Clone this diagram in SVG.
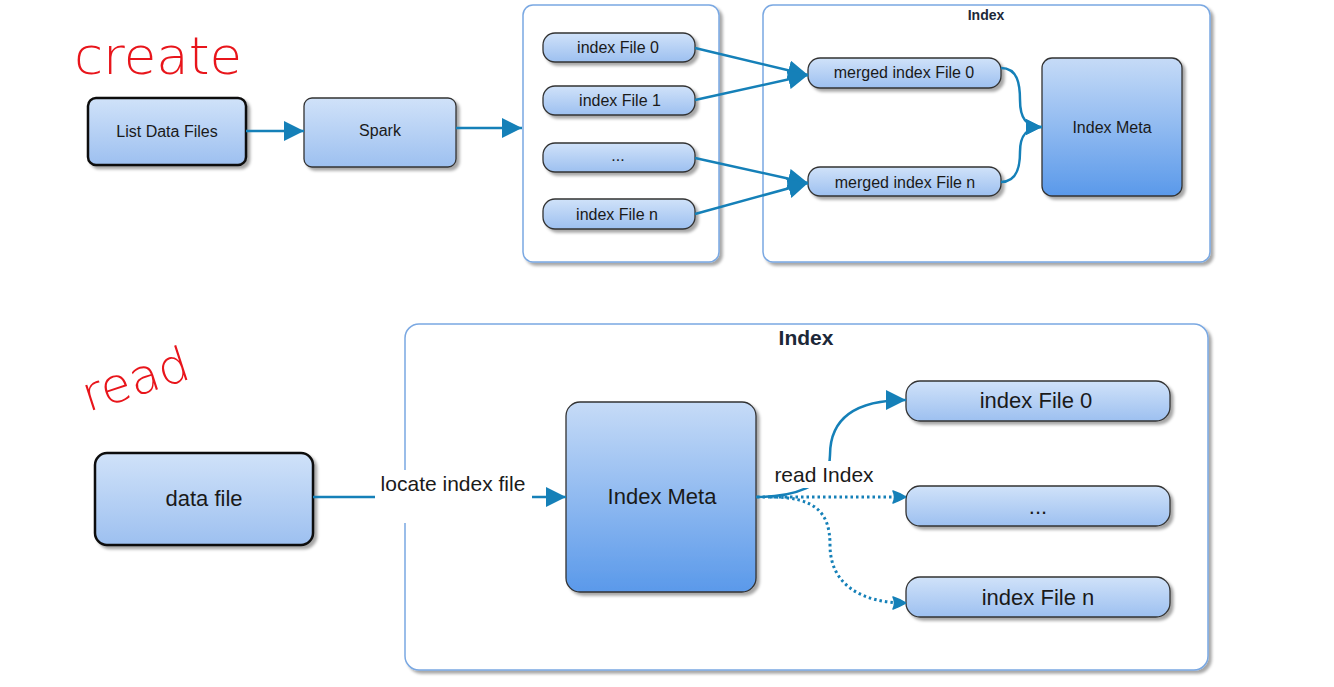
<svg xmlns="http://www.w3.org/2000/svg" width="1334" height="687" viewBox="0 0 1334 687">
<defs>
<linearGradient id="g1" x1="0" y1="0" x2="0" y2="1"><stop offset="0" stop-color="#d0e2f9"/><stop offset="1" stop-color="#9dc0f0"/></linearGradient>
<linearGradient id="g2" x1="0" y1="0" x2="0" y2="1"><stop offset="0" stop-color="#c6dbf7"/><stop offset="1" stop-color="#5a99ea"/></linearGradient>
<filter id="sh" x="-10%" y="-10%" width="130%" height="140%"><feDropShadow dx="3" dy="3" stdDeviation="1.5" flood-color="#000" flood-opacity="0.35"/></filter>
<marker id="ar" markerUnits="userSpaceOnUse" viewBox="0 0 20 20" refX="20" refY="10" markerWidth="20" markerHeight="20" orient="auto"><path d="M0,0 L20,10 L0,20 z" fill="#1580b8"/></marker>
<marker id="ars" markerUnits="userSpaceOnUse" viewBox="0 0 16 16" refX="16" refY="8" markerWidth="16" markerHeight="16" orient="auto"><path d="M0,0 L16,8 L0,16 z" fill="#1580b8"/></marker>
<marker id="ard" markerUnits="userSpaceOnUse" viewBox="0 0 14 14" refX="14" refY="7" markerWidth="14" markerHeight="14" orient="auto"><path d="M1,1 Q7,3 14,7 Q7,11 1,13 Q4,7 1,1 z" fill="#1580b8" stroke="#1580b8" stroke-width="1.5" stroke-linejoin="round"/></marker>
</defs>
<style>
.n{fill:url(#g1);stroke:#333;stroke-width:1.3;filter:url(#sh)}
.nb{fill:url(#g1);stroke:#111;stroke-width:2.5;filter:url(#sh)}
.m{fill:url(#g2);stroke:#333;stroke-width:1.3;filter:url(#sh)}
.c{fill:#fff;stroke:#7aa8e2;stroke-width:1.5;filter:url(#sh)}
.t{font-family:"Liberation Sans",Arial,sans-serif;fill:#1a1a1a;text-anchor:middle}
.s{font-size:16px}
.b{font-size:22px}
.ttl{font-family:"Liberation Sans",Arial,sans-serif;font-weight:bold;fill:#1c2838;text-anchor:middle}
.e{fill:none;stroke:#1580b8;stroke-width:2.5}
.d{fill:none;stroke:#1580b8;stroke-width:3;stroke-dasharray:2.5 3}
.hw{font-family:"DejaVu Sans",sans-serif;font-weight:200;fill:#e8151b}
</style>

<text class="hw" x="74" y="74" font-size="52" textLength="168" lengthAdjust="spacingAndGlyphs">create</text>
<text class="hw" x="88" y="412" font-size="48" transform="rotate(-18 88 412)" textLength="110" lengthAdjust="spacingAndGlyphs">read</text>

<g id="create-left-container"><rect class="c" x="523" y="5" width="196" height="257" rx="10"/></g>
<g id="create-index-container"><rect class="c" x="763" y="5" width="447" height="257" rx="10"/><text class="ttl" x="986" y="20" font-size="14">Index</text></g>

<g id="list-data-files"><rect class="nb" x="88" y="98" width="158" height="67" rx="8"/><text class="t s" x="167" y="137">List Data Files</text></g>
<g id="spark"><rect class="n" x="304" y="98" width="152" height="69" rx="8"/><text class="t s" x="380" y="136">Spark</text></g>
<g id="index-file-0"><rect class="n" x="543" y="33" width="152" height="29" rx="12"/><text class="t s" x="618" y="53">index File 0</text></g>
<g id="index-file-1"><rect class="n" x="543" y="86" width="152" height="29" rx="12"/><text class="t s" x="620" y="106">index File 1</text></g>
<g id="index-file-dots"><rect class="n" x="543" y="143" width="152" height="29" rx="12"/><text class="t s" x="618" y="161">...</text></g>
<g id="index-file-n"><rect class="n" x="543" y="199" width="152" height="30" rx="12"/><text class="t s" x="617" y="220">index File n</text></g>
<g id="merged-index-file-0"><rect class="n" x="808" y="58" width="193" height="30" rx="12"/><text class="t s" x="904" y="78">merged index File 0</text></g>
<g id="merged-index-file-n"><rect class="n" x="808" y="167" width="193" height="29" rx="12"/><text class="t s" x="905" y="188">merged index File n</text></g>
<g id="index-meta-top"><rect class="m" x="1042" y="58" width="140" height="138" rx="10"/><text class="t s" x="1112" y="133">Index Meta</text></g>

<g id="read-index-container"><rect class="c" x="405" y="324" width="803" height="346" rx="14"/><text class="ttl" x="806" y="345" font-size="21">Index</text></g>
<g id="data-file"><rect class="nb" x="95" y="453" width="218" height="92" rx="12"/><text class="t b" x="204" y="506">data file</text></g>
<g id="index-meta-bottom"><rect class="m" x="566" y="402" width="190" height="190" rx="14"/><text class="t b" x="662" y="504">Index Meta</text></g>
<g id="r-index-file-0"><rect class="n" x="906" y="381" width="264" height="40" rx="14"/><text class="t b" x="1036" y="408">index File 0</text></g>
<g id="r-index-file-dots"><rect class="n" x="906" y="486" width="264" height="40" rx="14"/><text class="t b" x="1038" y="514">...</text></g>
<g id="r-index-file-n"><rect class="n" x="906" y="577" width="264" height="40" rx="14"/><text class="t b" x="1038" y="605">index File n</text></g>

<g id="connectors">
<path class="e" d="M246,131 L304,131" marker-end="url(#ar)"/>
<path class="e" d="M456,128 L522,128" marker-end="url(#ar)"/>
<path class="e" d="M695,48 L808,75" marker-end="url(#ar)"/>
<path class="e" d="M695,100 L808,75" marker-end="url(#ar)"/>
<path class="e" d="M695,158 L808,183" marker-end="url(#ar)"/>
<path class="e" d="M695,214 L808,183" marker-end="url(#ar)"/>
<path class="e" d="M1001,68 C1018,68 1020,85 1020,100 C1020,118 1026,127 1042,127" marker-end="url(#ars)"/>
<path class="e" d="M1001,182 C1018,182 1020,165 1020,152 C1020,136 1026,127 1042,127" marker-end="url(#ars)"/>

<path class="e" d="M313,497 L566,497" marker-end="url(#ar)"/>
<rect x="375" y="470" width="157" height="53" fill="#fff"/>
<text class="t" x="453" y="491" font-size="21">locate index file</text>

<path class="e" d="M756,497 C790,497 830,488 830,455 C830,418 855,400 906,400" marker-end="url(#ar)"/>
<path class="d" d="M757,497 L906,497" marker-end="url(#ard)"/>
<path class="d" d="M770,497 C815,497 830,512 830,545 C830,585 862,603 906,603" marker-end="url(#ard)"/>
<rect x="771" y="461" width="108" height="27" fill="#fff"/>
<text class="t" x="824" y="482" font-size="21">read Index</text>
</g>
</svg>
